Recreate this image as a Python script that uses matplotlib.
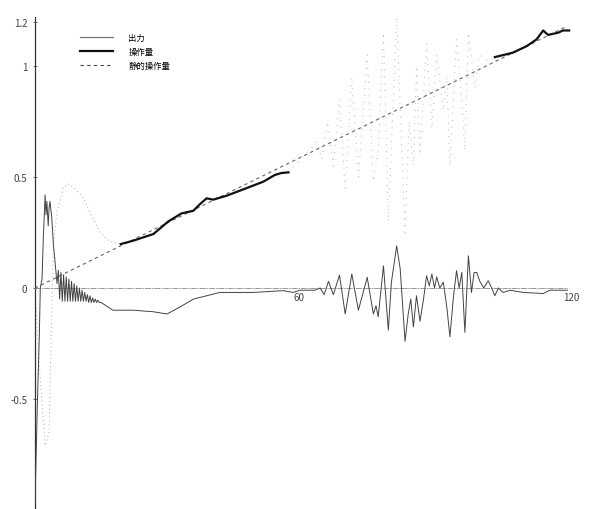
import numpy as np
import matplotlib
matplotlib.use("Agg")
import matplotlib.pyplot as plt
from matplotlib.lines import Line2D

plt.rcParams['font.family'] = ['Noto Sans CJK JP', 'DejaVu Sans']

# ---- data -------------------------------------------------------------
labels = ["出力", "操作量", "静的操作量"]

# plant output
out_t = [0.0, 0.5, 1.0, 1.2, 1.6, 1.9, 2.3, 2.5, 2.7, 3.0, 3.2, 3.4, 3.8, 4.2,
         4.5, 5.0,
         5.3, 5.6, 5.9, 6.2, 6.5, 6.8, 7.1, 7.4, 7.7, 8.0, 8.3, 8.6, 8.9, 9.2,
         9.5, 9.8, 10.1, 10.4, 10.7, 11.0, 11.3, 11.6, 11.9, 12.2, 12.5,
         12.8, 13.1, 13.4, 13.7, 14.0, 14.3, 14.6,
         15.0, 17.7, 22.3, 26.9, 30.0, 33.0, 36.0, 39.0, 42.0, 49.6, 56.4,
         58.7, 60.2, 63.6, 64.8, 65.7, 66.7, 67.8, 69.2, 70.5, 72.0, 73.5,
         75.5, 76.9, 77.5, 78.0, 79.2, 80.3, 81.0, 82.2, 83.0, 84.1, 84.8,
         85.4, 86.0, 86.7, 87.5, 88.3, 89.0, 89.6, 90.2, 90.8, 91.3, 92.0,
         92.8, 93.6, 94.3, 95.1, 95.8, 96.4, 97.0, 97.7, 98.5, 99.2, 99.8,
         100.4, 101.1, 102.0, 103.0, 103.8, 104.5, 105.3, 106.4, 108.0,
         111.0, 115.5, 117.0, 121.0]
out_v = [-0.97, -0.55, -0.20, 0.00, 0.04, 0.23, 0.42, 0.33, 0.39, 0.28, 0.36,
         0.39, 0.32, 0.19, 0.13, 0.02,
         0.08, -0.05, 0.07, -0.06, 0.06, -0.06, 0.05, -0.06, 0.04, -0.06,
         0.03, -0.06, 0.02, -0.06, 0.01, -0.06, 0.00, -0.06, -0.01, -0.06,
         -0.02, -0.06, -0.03, -0.065, -0.035, -0.065, -0.045, -0.065, -0.05,
         -0.065, -0.055, -0.065,
         -0.065, -0.10, -0.10, -0.107, -0.117, -0.085, -0.05, -0.035, -0.02,
         -0.02, -0.012,
         -0.02, -0.01, -0.01, 0.00, -0.03, 0.03, -0.03, 0.058, -0.117, 0.063,
         -0.10,
         0.048, -0.117, -0.08, -0.13, 0.10, -0.19, 0.026, 0.19, 0.086, -0.24,
         -0.12,
         -0.05, -0.175, -0.035, -0.15, -0.05, 0.055, 0.01, 0.063, 0.0, 0.05,
         0.0,
         0.026, -0.087, -0.22, -0.04, 0.078, 0.0, 0.07, -0.20, 0.145, -0.02,
         0.07,
         0.07, 0.03, 0.0, 0.033, 0.0, -0.035, 0.0, -0.02, -0.01,
         -0.02, -0.025, -0.01, -0.01]

# manipulated variable
u_t = [0.0, 1.0, 2.3, 3.2, 3.7, 4.2, 5.0, 6.4, 7.5, 9.0, 10.9, 12.0, 14.8,
       17.0, 19.5, 22.3, 26.9, 30.3, 33.3, 36.0, 37.5, 39.0, 40.5, 43.6,
       48.1, 51.9, 54.5, 56.0, 57.6,
       59.5, 61.0, 62.5, 64.0, 65.2, 66.5, 67.8, 69.2, 70.5, 72.0, 73.5,
       75.5, 76.9, 78.0, 79.2, 80.3, 82.2, 84.1, 85.0, 86.0, 86.7, 87.5,
       89.0, 90.2, 91.3, 92.8, 93.6, 94.3, 95.8, 97.0, 97.7, 98.5, 100.0,
       101.0, 103.0,
       104.5, 108.6, 111.8, 114.0, 115.5, 116.6, 118.9, 120.0, 121.4]
u_v = [0.0, -0.35, -0.71, -0.65, -0.20, 0.20, 0.34, 0.45, 0.47, 0.45, 0.41,
       0.36, 0.25, 0.21, 0.198, 0.213, 0.243, 0.30, 0.336, 0.348, 0.378,
       0.404, 0.398, 0.416, 0.45, 0.479, 0.509, 0.518, 0.521,
       0.56, 0.60, 0.62, 0.66, 0.58, 0.75, 0.55, 0.85, 0.45, 0.95, 0.50,
       1.05, 0.48, 0.62, 1.15, 0.30, 1.22, 0.25, 0.75, 0.55, 1.00, 0.60,
       1.10, 0.72, 1.05, 0.80, 0.95, 0.55, 1.12, 0.85, 0.62, 1.15, 0.90,
       1.05, 1.02,
       1.04, 1.06, 1.09, 1.12, 1.16, 1.14, 1.15, 1.16, 1.16]

# static manipulated variable (straight ramp)
s_t = [0.0, 121.0]
s_v = [0.0, 1.18]

# axis ticks
ytick_vals = [-0.5, 0, 0.5, 1, 1.2]
ytick_text = ["-0.5", "0", "0.5", "1", "1.2"]
xtick_vals = [60, 120]
xtick_text = ["60", "120"]

# ---- figure -----------------------------------------------------------
W, H = 590, 510
fig = plt.figure(figsize=(W / 100, H / 100), dpi=100)
px_per_t = 4.4
px_per_v = 222.0
x0_px, y0_px = 35.0, 289.0
tmin, tmax = 0.0, 124.0
vmin, vmax = -1.0, 1.22
left = x0_px / W
width = (tmax - tmin) * px_per_t / W
top_px = y0_px - vmax * px_per_v
bot_px = y0_px - vmin * px_per_v
ax = fig.add_axes([left, 1 - bot_px / H, width, (bot_px - top_px) / H])
ax.set_xlim(tmin, tmax)
ax.set_ylim(vmin, vmax)

ut = np.array(u_t)
uv = np.array(u_v)
smooth1 = (ut >= 19.5) & (ut <= 57.6)
smooth2 = ut >= 104.5
early = ut <= 19.5
middle = (ut >= 57.6) & (ut <= 104.5)

# static ramp
ax.plot(s_t, s_v, color="#666666", lw=0.8, ls=(0, (3, 3)), zorder=2)
# fast parts of the manipulated variable come out faint
ax.plot(ut[early], uv[early], color="#aaaaaa", lw=0.7, ls=(0, (1, 3)), zorder=2)
ax.plot(ut[middle], uv[middle], color="#b4b4b4", lw=0.7, ls=(0, (1, 6)),
        zorder=2)
# slow parts drawn heavy
ax.plot(ut[smooth1], uv[smooth1], color="#111111", lw=1.6, zorder=3)
ax.plot(ut[smooth2], uv[smooth2], color="#111111", lw=1.6, zorder=3)
# output
ax.plot(out_t, out_v, color="#444444", lw=0.7, zorder=4)

# axes styling
for side in ("top", "right"):
    ax.spines[side].set_visible(False)
ax.spines["left"].set_position(("data", 0))
ax.spines["left"].set_color("#333333")
ax.spines["left"].set_linewidth(0.9)
ax.spines["bottom"].set_position(("data", 0))
ax.spines["bottom"].set_color("#888888")
ax.spines["bottom"].set_linewidth(0.6)
ax.spines["bottom"].set_linestyle((0, (6, 2, 1, 2)))
ax.spines["bottom"].set_bounds(0, 121)

ax.set_yticks(ytick_vals)
ax.set_yticklabels(ytick_text)
ax.tick_params(axis="y", direction="inout", length=3, width=0.6,
               color="#555555", labelsize=7, labelcolor="#444444", pad=4)
ax.set_xticks(xtick_vals)
ax.set_xticklabels(xtick_text)
ax.tick_params(axis="x", length=0, labelsize=7, labelcolor="#444444", pad=3)
xl = ax.get_xticklabels()
xl[0].set_horizontalalignment("center")
xl[1].set_horizontalalignment("left")

# legend
handles = [
    Line2D([], [], color="#777777", lw=0.9),
    Line2D([], [], color="#111111", lw=1.6),
    Line2D([], [], color="#444444", lw=0.8, ls=(0, (3, 3))),
]
fig.legend(handles, labels, loc="upper left",
           bbox_to_anchor=(80 / W, 1 - 34 / H), frameon=False,
           fontsize=6, handlelength=3.9, handletextpad=1.9,
           labelspacing=0.6, borderpad=0, borderaxespad=0)

fig.savefig("out.png", dpi=100)
